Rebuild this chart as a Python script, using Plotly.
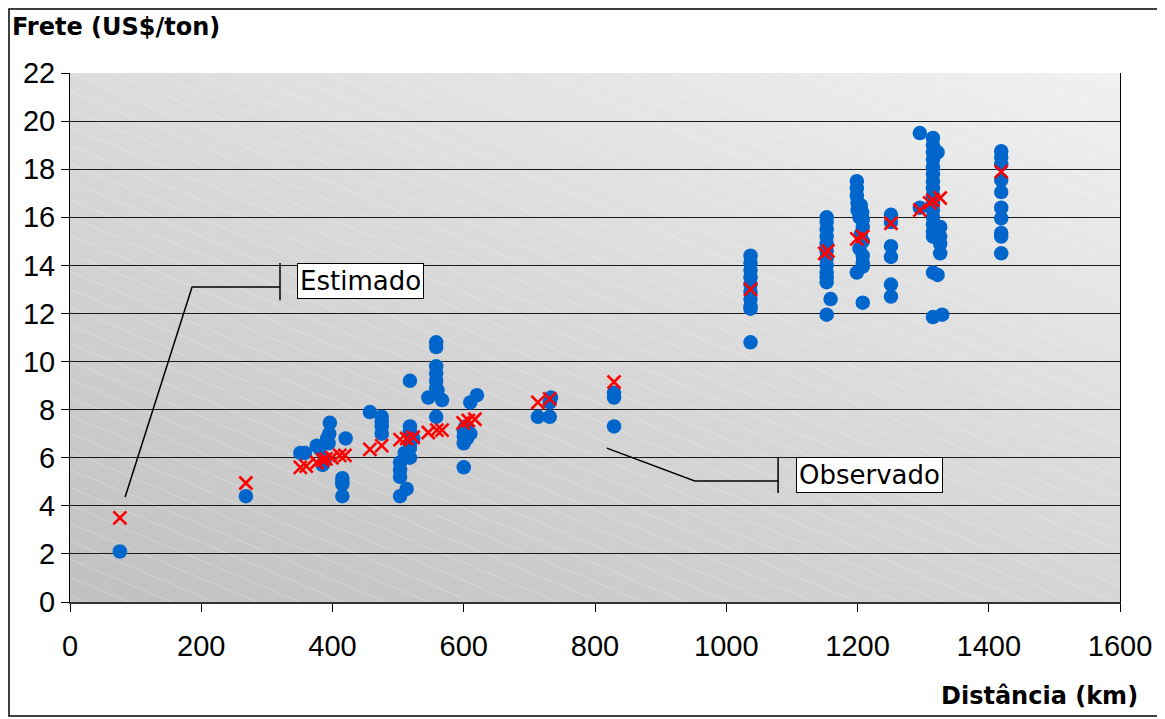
import numpy as np
import zlib, struct, base64
import plotly.graph_objects as go

# ---------------- data ----------------
obs_dist = [76, 268,
            351, 358, 376, 380, 385, 388, 392, 395, 396, 394, 420, 415, 415, 415, 415,
            457, 475, 475, 475, 475,
            503, 503, 503, 503, 510, 513, 518, 518, 518, 518, 518, 518, 523,
            546, 558, 558, 558, 558, 558, 558, 558, 567, 560,
            600, 600, 600, 600, 603, 605, 610, 610, 620,
            713, 731, 733, 731,
            829, 829, 829,
            1037, 1037, 1037, 1037, 1037, 1037, 1037, 1037, 1037, 1037,
            1153, 1153, 1153, 1153, 1153, 1153, 1153, 1153, 1153, 1153, 1153, 1159, 1153,
            1199, 1199, 1199, 1200, 1200, 1203, 1205, 1207, 1208, 1208, 1205, 1208, 1203, 1208, 1208, 1208, 1199, 1208,
            1251, 1251, 1251, 1251, 1251, 1251,
            1295, 1295,
            1315, 1315, 1315, 1315, 1315, 1315, 1315, 1315, 1315, 1315, 1315, 1315, 1315, 1315, 1315,
            1326, 1315, 1322, 1315, 1329, 1322, 1326, 1326, 1326,
            1419, 1419, 1419, 1419, 1419, 1419, 1419, 1419, 1419, 1419]
obs_frete = [2.1, 4.4,
             6.2, 6.2, 6.5, 6.4, 5.7, 5.9, 6.8, 7.0, 7.45, 6.6, 6.8, 5.15, 4.9, 4.4, 5.0,
             7.9, 7.7, 7.5, 7.3, 7.0,
             5.8, 5.5, 5.2, 4.4, 6.2, 4.7, 9.2, 7.3, 7.1, 6.6, 6.0, 6.4, 6.8,
             8.5, 10.8, 10.6, 9.8, 9.5, 9.2, 8.9, 7.7, 8.4, 8.8,
             7.15, 6.9, 6.6, 5.6, 7.3, 6.8, 7.0, 8.3, 8.6,
             7.7, 7.7, 8.5, 8.3,
             8.7, 8.5, 7.3,
             14.4, 14.1, 13.8, 13.5, 13.2, 12.9, 12.6, 12.3, 12.2, 10.8,
             16.0, 15.8, 15.5, 15.2, 14.9, 14.6, 14.3, 14.0, 13.7, 13.5, 13.3, 12.6, 11.95,
             17.5, 17.2, 16.9, 16.6, 16.3, 16.0, 16.5, 16.2, 15.9, 15.6, 15.3, 15.0, 14.7, 14.4, 14.1, 13.95, 13.7, 12.45,
             16.1, 15.8, 14.8, 14.35, 13.2, 12.7,
             19.5, 16.4,
             19.3, 19.0, 18.7, 18.4, 18.1, 17.8, 17.5, 17.2, 16.9, 16.6, 16.3, 16.0, 15.7, 15.4, 15.2,
             14.5, 13.7, 13.6, 11.85, 11.95, 18.7, 15.6, 15.2, 14.9,
             18.75, 18.5, 18.2, 17.55, 17.05, 16.4, 15.95, 15.35, 15.2, 14.5]

est_dist = [76, 268, 351, 360, 376, 385, 390, 399, 411, 419, 457, 475, 503, 513, 523,
            546, 559, 567, 599, 607, 617, 713, 731, 829, 1037, 1150, 1155, 1199, 1208,
            1251, 1295, 1310, 1315, 1326, 1419]
est_frete = [3.5, 4.95, 5.6, 5.65, 5.8, 5.9, 5.95, 6.0, 6.1, 6.1, 6.35, 6.5, 6.75, 6.8, 6.85,
             7.05, 7.15, 7.15, 7.45, 7.55, 7.6, 8.3, 8.45, 9.15, 13.0, 14.5, 14.6, 15.1, 15.2,
             15.75, 16.3, 16.6, 16.7, 16.8, 17.9]

x_ticks = [0, 200, 400, 600, 800, 1000, 1200, 1400, 1600]
y_ticks = [0, 2, 4, 6, 8, 10, 12, 14, 16, 18, 20, 22]

# ---------------- background image (gradient + faint diagonal stripes) ----------------
W, H = 1050, 529
X, Y = np.meshgrid(np.arange(W), np.arange(H))
xn = X / (W - 1)
yn = 1 - Y / (H - 1)
base = 193 + 21 * xn + 27 * yn
P = 18.0
s = (Y - 0.42 * X) % P
d = np.minimum(s, P - s)
alpha = np.clip(1 - d, 0, 1) * 0.25
val = base * (1 - alpha) + 255 * alpha
arr = np.repeat(np.clip(val, 0, 255).astype(np.uint8)[:, :, None], 3, axis=2)


def png_bytes(a):
    h, w, _ = a.shape
    raw = b"".join(b"\x00" + a[i].tobytes() for i in range(h))

    def chunk(tag, data):
        return (struct.pack(">I", len(data)) + tag + data +
                struct.pack(">I", zlib.crc32(tag + data) & 0xffffffff))
    return (b"\x89PNG\r\n\x1a\n" +
            chunk(b"IHDR", struct.pack(">IIBBBBB", w, h, 8, 2, 0, 0, 0)) +
            chunk(b"IDAT", zlib.compress(raw, 9)) +
            chunk(b"IEND", b""))


bg_src = "data:image/png;base64," + base64.b64encode(png_bytes(arr)).decode()

# ---------------- figure ----------------
fig = go.Figure()
fig.add_trace(go.Scatter(
    x=obs_dist, y=obs_frete, mode="markers", name="Observado",
    marker=dict(symbol="circle", size=14.5, color="#0066CC", line=dict(width=0)),
    showlegend=False))
fig.add_trace(go.Scatter(
    x=est_dist, y=est_frete, mode="markers", name="Estimado",
    marker=dict(symbol="x-thin", size=13, color="#FF0000",
                line=dict(width=2.6, color="#FF0000")),
    showlegend=False))

tickfont = dict(family="Liberation Sans, Arial, sans-serif", size=29, color="black")

fig.update_layout(
    width=1157, height=711,
    margin=dict(l=62, r=45, t=65, b=117),
    paper_bgcolor="white",
    plot_bgcolor="#d6d6d6",
    images=[dict(source=bg_src, xref="paper", yref="paper", x=0, y=1,
                 sizex=1, sizey=1, sizing="stretch", xanchor="left",
                 yanchor="top", layer="below")],
    xaxis=dict(range=[0, 1600], tickvals=x_ticks, ticktext=[str(v) for v in x_ticks],
               ticks="outside", ticklen=8, tickcolor="black", tickwidth=1,
               showline=True, linecolor="#333333", linewidth=2,
               showgrid=False, zeroline=False, tickfont=tickfont,
               ticklabelstandoff=9),
    yaxis=dict(range=[0, 22], tickvals=y_ticks, ticktext=[str(v) for v in y_ticks],
               ticks="outside", ticklen=8, tickcolor="black", tickwidth=1,
               showline=True, linecolor="black", linewidth=1, mirror=True,
               showgrid=True, gridcolor="#1a1a1a", gridwidth=1.2,
               zeroline=False, tickfont=tickfont),
    font=dict(family="DejaVu Sans, Verdana, sans-serif", color="black"),
)

titlefont = dict(family="DejaVu Sans, Verdana, sans-serif", size=24, color="black",
                 weight="bold")
fig.add_annotation(text="<b>Frete (US$/ton)</b>", xref="paper", yref="paper",
                   x=-0.0571, y=1.087, xanchor="left", yanchor="middle",
                   showarrow=False, font=titlefont)
fig.add_annotation(text="<b>Distância (km)</b>", xref="paper", yref="paper",
                   x=1.019, y=-0.1777, xanchor="right", yanchor="middle",
                   showarrow=False, font=titlefont)

boxfont = dict(family="DejaVu Sans, Verdana, sans-serif", size=26, color="black")
fig.add_annotation(text="Estimado", x=443, y=13.33, xref="x", yref="y",
                   showarrow=False, bgcolor="white", bordercolor="black",
                   borderwidth=1, borderpad=2, font=boxfont)
fig.add_annotation(text="Observado", x=1219, y=5.28, xref="x", yref="y",
                   showarrow=False, bgcolor="white", bordercolor="black",
                   borderwidth=1, borderpad=2, font=boxfont)

# callout leader lines
line_style = dict(color="black", width=1.5)
fig.add_shape(type="path", xref="x", yref="y",
              path="M 84 4.37 L 186 13.1 L 320 13.1", line=line_style)
fig.add_shape(type="line", xref="x", yref="y", x0=320, x1=320, y0=12.55, y1=14.1,
              line=line_style)
fig.add_shape(type="path", xref="x", yref="y",
              path="M 818 6.4 L 952 5.03 L 1079 5.03", line=line_style)
fig.add_shape(type="line", xref="x", yref="y", x0=1079, x1=1079, y0=4.53, y1=6.03,
              line=line_style)

# outer frame of the chart area
fig.add_shape(type="rect", xref="paper", yref="paper",
              x0=-0.0581, x1=1.0381, y0=-0.2155, y1=1.121,
              line=dict(color="black", width=1.5), fillcolor="rgba(0,0,0,0)")

fig.write_html("out.html")
